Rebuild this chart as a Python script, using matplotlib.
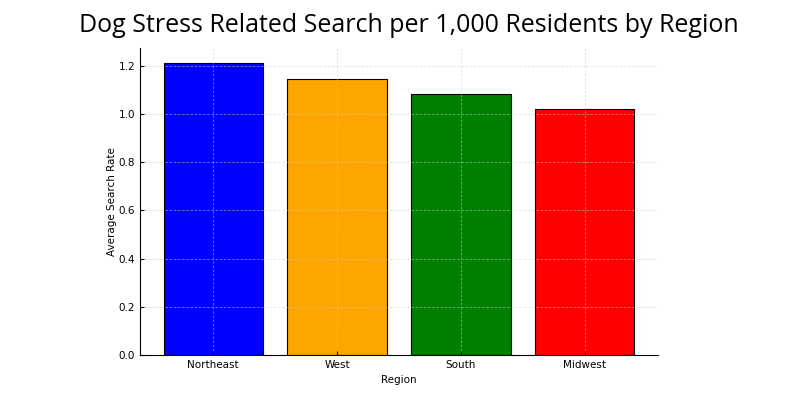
import matplotlib
matplotlib.use("Agg")
import matplotlib.pyplot as plt

regions = ["Northeast", "West", "South", "Midwest"]
values = [1.212, 1.145, 1.083, 1.021]
colors = ["blue", "orange", "green", "red"]

fig = plt.figure(figsize=(8, 4), dpi=100)
ax = fig.add_axes([0.175, 0.1125, 0.6475, 0.7675])
ax.bar(regions, values, color=colors, edgecolor="black", linewidth=0.8, width=0.8)
ax.set_axisbelow(False)
ax.grid(True, linestyle=(0, (3, 2)), color="#cccccc", linewidth=0.6, alpha=0.6)
for s in ["top", "right"]:
    ax.spines[s].set_visible(False)
ax.tick_params(direction="in", labelsize=7.5, length=3)
ax.set_ylabel("Average Search Rate", fontsize=7.5, labelpad=1)
ax.set_xlabel("Region", fontsize=7.5)
ax.set_yticks([0.0, 0.2, 0.4, 0.6, 0.8, 1.0, 1.2])
fig.text(0.511, 0.935, "Dog Stress Related Search per 1,000 Residents by Region",
         ha="center", va="center", fontsize=18, family="Open Sans")
fig.savefig("out.png", dpi=100)
